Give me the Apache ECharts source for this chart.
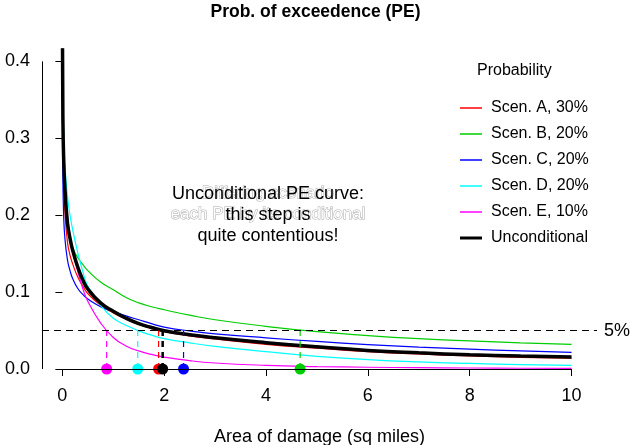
<!DOCTYPE html>
<html>
<head>
<meta charset="utf-8">
<title>Prob. of exceedence (PE)</title>
<script src="https://cdn.jsdelivr.net/npm/echarts@6/dist/echarts.min.js"></script>
<style>
    html, body { margin: 0; padding: 0; background: #fff; }
    #chart { width: 631px; height: 445px; }
</style>
</head>
<body>
<div id="chart"></div>
<script>
// 曲线读数点 (sq miles)
let areaX = [0.003, 0.01, 0.025, 0.05, 0.1, 0.15, 0.2, 0.3, 0.4, 0.5, 0.75, 1, 1.25, 1.5, 1.75, 2, 2.5, 3, 4, 5, 6, 7, 8, 9, 10];
// 各情景 PE 值
let scenA = [0.417, 0.31, 0.25, 0.205, 0.165, 0.148, 0.137, 0.12, 0.108, 0.098, 0.083, 0.073, 0.065, 0.058, 0.0525, 0.0485, 0.043, 0.039, 0.032, 0.027, 0.0225, 0.0195, 0.017, 0.0152, 0.014];
let scenB = [0.417, 0.34, 0.28, 0.235, 0.19, 0.17, 0.158, 0.145, 0.136, 0.128, 0.113, 0.103, 0.093, 0.086, 0.081, 0.077, 0.07, 0.064, 0.0555, 0.0485, 0.0435, 0.0395, 0.0365, 0.034, 0.032];
let scenC = [0.35, 0.25, 0.20, 0.17, 0.142, 0.128, 0.118, 0.105, 0.097, 0.091, 0.081, 0.075, 0.069, 0.064, 0.059, 0.0545, 0.0495, 0.0458, 0.0405, 0.0358, 0.0318, 0.0285, 0.0258, 0.0235, 0.0216];
let scenD = [0.417, 0.36, 0.31, 0.265, 0.225, 0.2, 0.182, 0.152, 0.127, 0.108, 0.083, 0.066, 0.057, 0.0495, 0.044, 0.0395, 0.034, 0.0295, 0.0225, 0.0165, 0.0122, 0.0092, 0.0072, 0.0057, 0.0046];
let scenE = [0.417, 0.34, 0.29, 0.245, 0.2, 0.175, 0.155, 0.128, 0.105, 0.088, 0.06, 0.041, 0.03, 0.0235, 0.019, 0.0155, 0.0108, 0.0078, 0.0048, 0.0032, 0.0023, 0.0017, 0.0013, 0.001, 0.0008];
let uncond = [0.417, 0.33, 0.275, 0.235, 0.19, 0.17, 0.155, 0.133, 0.116, 0.104, 0.086, 0.075, 0.066, 0.059, 0.054, 0.0497, 0.0445, 0.0405, 0.0342, 0.0288, 0.0242, 0.021, 0.0185, 0.0168, 0.0156];
// 5% 处的面积
let crossX = [1.89, 4.67, 2.38, 1.48, 0.87, 1.97];
let threshold = 0.05;

let curveNames = ['Scen. A, 30%', 'Scen. B, 20%', 'Scen. C, 20%', 'Scen. D, 20%', 'Scen. E, 10%', 'Unconditional'];
let curveColors = ['#ff0000', '#00cd00', '#0000ff', '#00ffff', '#ff00ff', '#000000'];
let curveWidths = [1.2, 1.2, 1.2, 1.2, 1.2, 3.5];
let xTicks = [0, 2, 4, 6, 8, 10];

let font = "'Liberation Sans', Arial, sans-serif";
let curves = [scenA, scenB, scenC, scenD, scenE, uncond];

let series = [];

// 坐标轴线 (R 风格, 只画到首末刻度)
series.push({
    type: 'line', name: 'axes', data: [], silent: true,
    markLine: {
        symbol: 'none', silent: true, animation: false,
        lineStyle: {color: '#000', width: 1, type: 'solid'},
        label: {show: false},
        data: [
            [{coord: [0, 0]}, {coord: [10, 0]}],
            [{coord: [-0.4, 0]}, {coord: [-0.4, 0.4]}]
        ]
    }
});

// 5% 虚线
series.push({
    type: 'line', name: 'threshold', data: [], silent: true,
    markLine: {
        symbol: 'none', silent: true, animation: false,
        lineStyle: {color: '#000', width: 1, type: [7, 5]},
        label: {show: true, position: 'end', formatter: '5%', color: '#000', fontSize: 18, fontFamily: font, distance: 7},
        data: [{yAxis: threshold}]
    }
});

// 曲线
for (let i = 0; i < curves.length; i++) {
    series.push({
        type: 'line',
        name: curveNames[i],
        data: areaX.map((x, k) => [x, curves[i][k]]),
        symbol: 'none',
        smooth: 0.5,
        lineStyle: {color: curveColors[i], width: curveWidths[i]},
        itemStyle: {color: curveColors[i]},
        z: 2 + i * 0.1
    });
}

// 垂直虚线和点
for (let i = 0; i < crossX.length; i++) {
    series.push({
        type: 'line',
        name: 'drop' + i,
        data: [[crossX[i], 0], [crossX[i], threshold]],
        symbol: 'none',
        lineStyle: {color: curveColors[i], width: i === 5 ? 2.5 : 1.2, type: [6, 5]},
        z: 3
    });
    series.push({
        type: 'scatter',
        name: 'dot' + i,
        data: [[crossX[i], 0]],
        symbolSize: 11,
        itemStyle: {color: curveColors[i], opacity: 1},
        z: 4 + i * 0.1
    });
}

// 图例线条
let legendData = curveNames.map((name, i) => ({
    name: name,
    icon: i === 5 ? 'path://M0,0H22V3H0Z' : 'path://M0,0H22V1.5H0Z'
}));

let option = {
    animation: false,
    backgroundColor: '#fff',
    textStyle: {fontFamily: font},
    title: [
        {
            text: 'Prob. of exceedence (PE)',
            left: 'center', top: 3, padding: 0,
            textStyle: {fontSize: 17.5, fontWeight: 'bold', color: '#000', fontFamily: font}
        },
        {
            text: 'Probability',
            left: 472, top: 58,
            textStyle: {fontSize: 16, fontWeight: 'normal', color: '#000', fontFamily: font}
        }
    ],
    legend: {
        data: legendData,
        orient: 'vertical',
        left: 460, top: 100, padding: 0,
        itemWidth: 22, itemHeight: 14, itemGap: 10,
        itemStyle: {borderWidth: 0},
        textStyle: {fontSize: 16, color: '#000', fontFamily: font, lineHeight: 16, padding: [0, 0, 0, 4]}
    },
    grid: {left: 42, right: 34, top: 46, bottom: 76, containLabel: false, outerBoundsMode: 'none'},
    xAxis: {
        type: 'value', min: -0.4, max: 10.5,
        name: 'Area of damage (sq miles)',
        nameLocation: 'middle', nameGap: 59,
        nameTextStyle: {fontSize: 18, color: '#000', fontFamily: font},
        axisLine: {show: false},
        axisTick: {show: true, length: 7, customValues: xTicks, lineStyle: {color: '#000'}},
        axisLabel: {customValues: xTicks, margin: 18, fontSize: 18, color: '#000', fontFamily: font},
        splitLine: {show: false}
    },
    yAxis: {
        type: 'value', min: 0, max: 0.42, interval: 0.1,
        axisLine: {show: false},
        axisTick: {show: true, length: 7, lineStyle: {color: '#000'}},
        axisLabel: {margin: 12, fontSize: 18, color: '#000', fontFamily: font, formatter: v => v.toFixed(1)},
        splitLine: {show: false}
    },
    graphic: [
        {
            type: 'text', x: 268, y: 193, z: 50,
            style: {text: 'Differing scenario', align: 'center', verticalAlign: 'middle', fontSize: 17, fontFamily: font, fill: '#fff', stroke: '#aaa', lineWidth: 1}
        },
        {
            type: 'text', x: 268, y: 214, z: 50,
            style: {text: 'each PE by its conditional', align: 'center', verticalAlign: 'middle', fontSize: 17, fontFamily: font, fill: '#fff', stroke: '#aaa', lineWidth: 1}
        },
        {
            type: 'text', x: 268, y: 215, z: 51,
            style: {text: 'Unconditional PE curve:\nthis step is\nquite contentious!', align: 'center', verticalAlign: 'middle', fontSize: 18, lineHeight: 21, fontFamily: font, fill: '#000'}
        }
    ],
    series: series
};

let chart = echarts.init(document.getElementById('chart'));
chart.setOption(option);
</script>
</body>
</html>
